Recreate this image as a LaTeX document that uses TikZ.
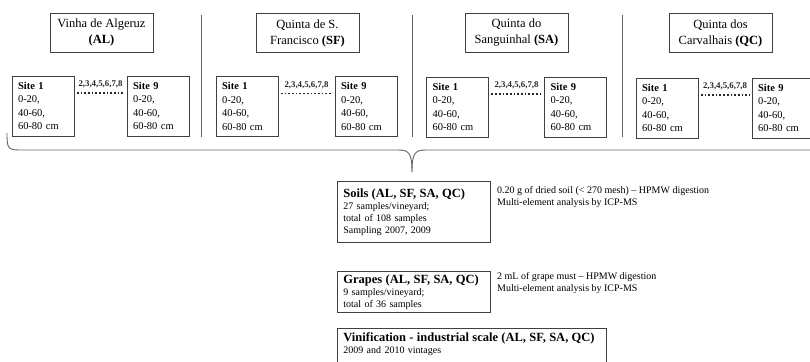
\documentclass[tikz,border=0pt]{standalone}
\usepackage{fontspec}
\setmainfont{Liberation Serif}
\begin{document}
\begin{tikzpicture}[x=1pt,y=-1pt,
  titlebox/.style={draw=black!75, line width=0.8pt, minimum width=103pt, minimum height=39pt, align=center, inner sep=2pt, font=\fontsize{12.5}{16}\selectfont},
  sitebox/.style={draw=black!75, line width=0.8pt, minimum height=60pt, text width=50pt, inner xsep=6pt, inner ysep=2pt, align=left, font=\fontsize{10.5}{13.5}\selectfont},
  dotline/.style={line width=1.7pt, dash pattern=on 1.7pt off 2pt, black!85, shorten <=2.5pt, shorten >=2.5pt},
  dotlabel/.style={font=\bfseries\fontsize{8.8}{9}\selectfont, inner sep=0pt},
  sepline/.style={draw=black!60, line width=0.9pt},
  braceline/.style={draw=black!60, line width=0.9pt},
  infobox/.style={draw=black!75, line width=0.8pt, text width=141pt, inner xsep=6pt, align=left, anchor=north west, font=\fontsize{10}{12}\selectfont},
  infotext/.style={anchor=west, align=left, inner sep=0pt, font=\fontsize{10}{12}\selectfont}
]
\clip (0,0) rectangle (810,361);
\fill[white] (0,0) rectangle (810,361);

% vineyard titles
\node[titlebox] (tAL) at (101.5,32.5) {Vinha de Algeruz\\\textbf{(AL)}};
\node[titlebox] (tSF) at (307.5,33) {Quinta de S.\\Francisco \textbf{(SF)}};
\node[titlebox] (tSA) at (516.5,33) {Quinta do\\Sanguinhal \textbf{(SA)}};
\node[titlebox] (tQC) at (720.5,33) {Quinta dos\\Carvalhais \textbf{(QC)}};

% sites
\foreach \v/\xa/\xb/\yy in {AL/43/158/106, SF/247/366/106.5, SA/457.5/575.5/107, QC/667/783/108}{
  \node[sitebox] (\v1) at (\xa,\yy) {\textbf{Site 1}\\0-20,\\40-60,\\60-80 cm};
  \node[sitebox] (\v9) at (\xb,\yy) {\textbf{Site 9}\\0-20,\\40-60,\\60-80 cm};
  \draw[dotline] ([yshift=13pt]\v1.east) -- ([yshift=13pt]\v9.west)
     node[midway, above=4pt, dotlabel] (lab\v) {2,3,4,5,6,7,8};
}

% separators
\coordinate (s1t) at (201,15); \coordinate (s1b) at (201,137);
\coordinate (s2t) at (412,15); \coordinate (s2b) at (412,137);
\coordinate (s3t) at (622,15); \coordinate (s3b) at (622,137);
\draw[sepline] (s1t) -- (s1b);
\draw[sepline] (s2t) -- (s2b);
\draw[sepline] (s3t) -- (s3b);

% brace
\coordinate (bl) at (7,133);
\coordinate (bt) at (412,172);
\coordinate (br) at (830,150);
\draw[braceline] (bl) .. controls (7,150) and (8,150) .. (24,150) -- (398,150)
  .. controls (409,150) and (412,153) .. (bt);
\draw[braceline] (br) -- (426,150) .. controls (415,150) and (412,153) .. (bt);

% soils
\node[infobox, minimum height=61pt] (soils) at (337,181)
  {{\bfseries\fontsize{12.5}{15}\selectfont Soils (AL, SF, SA, QC)}\\27 samples/vineyard;\\total of 108 samples\\Sampling 2007, 2009};
\node[infotext] (soilsinfo) at (497,197)
  {0.20 g of dried soil (< 270 mesh) – HPMW digestion\\Multi-element analysis by ICP-MS};

% grapes
\node[infobox, minimum height=37pt] (grapes) at (337,271)
  {{\bfseries\fontsize{12.5}{15}\selectfont Grapes (AL, SF, SA, QC)}\\9 samples/vineyard;\\total of 36 samples};
\node[infotext] (grapesinfo) at (497,283.5)
  {2 mL of grape must – HPMW digestion\\Multi-element analysis by ICP-MS};

% vinification
\node[draw=black!75, line width=0.8pt, anchor=north west, align=left, inner xsep=6pt, inner ysep=4pt, text width=257pt, text depth=30pt, font=\fontsize{10}{12}\selectfont] (vin) at (337,328)
  {{\bfseries\fontsize{12.5}{14}\selectfont Vinification - industrial scale (AL, SF, SA, QC)}\\2009 and 2010 vintages};
\end{tikzpicture}
\end{document}
